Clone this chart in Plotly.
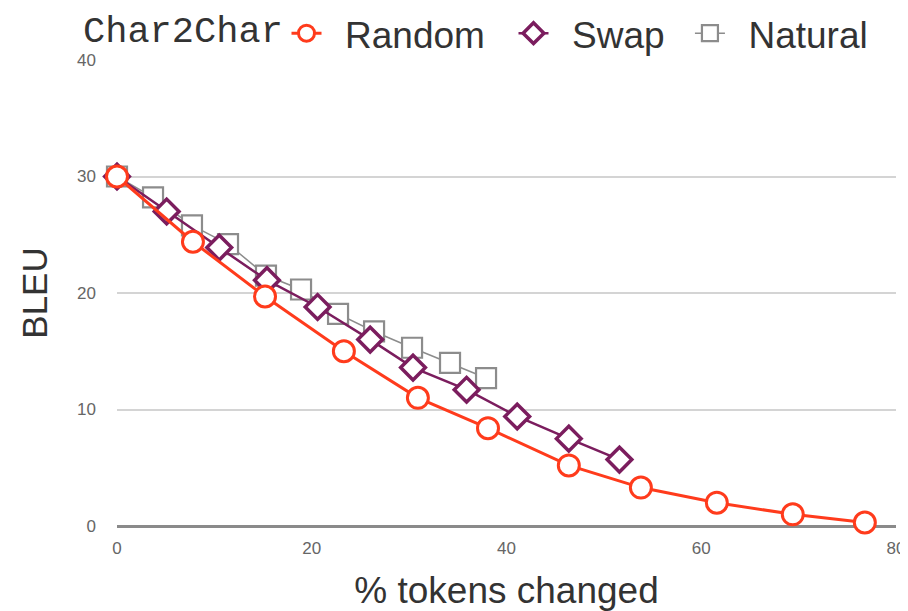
import plotly.graph_objects as go

# Data
random_x = [0, 7.8, 15.2, 23.3, 30.9, 38.1, 46.4, 53.8, 61.6, 69.4, 76.8]
random_y = [30.0, 24.4, 19.7, 15.0, 11.0, 8.4, 5.2, 3.3, 2.0, 1.0, 0.3]

swap_x = [0, 5.1, 10.5, 15.4, 20.6, 26.0, 30.4, 35.9, 41.1, 46.4, 51.6]
swap_y = [30.0, 27.0, 23.9, 21.1, 18.8, 16.0, 13.6, 11.7, 9.4, 7.5, 5.7]

natural_x = [0, 3.7, 7.7, 11.4, 15.3, 18.9, 22.7, 26.4, 30.3, 34.2, 37.9]
natural_y = [30.0, 28.2, 25.8, 24.2, 21.5, 20.3, 18.2, 16.7, 15.3, 14.0, 12.7]

x_ticks = [0, 20, 40, 60, 80]
y_ticks = [0, 10, 20, 30, 40]

legend_title = "Char2Char"

RED = "#ff3b1c"
PURPLE = "#7b1d5e"
GRAY = "#8c8c8c"

fig = go.Figure()

fig.add_trace(go.Scatter(
    x=natural_x, y=natural_y, name="\u2002Natural", mode="lines+markers",
    line=dict(color=GRAY, width=1.5),
    marker=dict(symbol="square", size=20, color="white", line=dict(color=GRAY, width=2.2)),
    cliponaxis=False, legend="legend3",
))
fig.add_trace(go.Scatter(
    x=swap_x, y=swap_y, name="\u2002Swap", mode="lines+markers",
    line=dict(color=PURPLE, width=2.5),
    marker=dict(symbol="diamond", size=19, color="white", line=dict(color=PURPLE, width=3.5)),
    cliponaxis=False, legend="legend2",
))
fig.add_trace(go.Scatter(
    x=random_x, y=random_y, name="\u2002Random", mode="lines+markers",
    line=dict(color=RED, width=3),
    marker=dict(symbol="circle", size=21, color="white", line=dict(color=RED, width=3)),
    cliponaxis=False, legend="legend",
))

W, H = 908, 611
FW, FH = 900, 603  # figure size (page body has an 8px default margin)
L, R, T, B = 109, 12, 52, 85
PW, PH = FW - L - R, FH - T - B

LEG_Y = 1 - 26 / H
leg_common = dict(
    orientation="h", xref="container", yref="container",
    y=LEG_Y, xanchor="left", yanchor="middle",
    font=dict(size=37, color="#333333"),
    bgcolor="rgba(0,0,0,0)",
)

fig.add_annotation(
    text=legend_title, xref="paper", yref="paper",
    x=(74 - L) / PW, y=1 + (T - 24) / PH, xanchor="left", yanchor="middle",
    showarrow=False, height=34, valign="middle", borderpad=0,
    font=dict(family="Liberation Mono, Courier New, monospace", size=37, color="#333333"),
)

fig.update_layout(
    width=FW, height=FH,
    margin=dict(l=L, r=R, t=T, b=B, autoexpand=False),
    paper_bgcolor="white", plot_bgcolor="white",
    font=dict(family="Liberation Sans, Arial, sans-serif", color="#333333"),
    showlegend=True,
    legend=dict(x=(308 - 8 - 21.5) / FW, **leg_common),
    legend2=dict(x=(543 - 33) / W, **leg_common),
    legend3=dict(x=(721 - 33) / W, **leg_common),
    xaxis=dict(
        range=[0, 80], tickvals=x_ticks, showgrid=False, zeroline=False,
        showline=False, ticks="",
        tickfont=dict(size=17, color="#666666"),
        ticklabelstandoff=10,
        title=dict(text="% tokens changed", font=dict(size=37, color="#333333"), standoff=22),
        automargin=False,
    ),
    yaxis=dict(
        range=[0, 40], tickvals=y_ticks, showgrid=True, gridcolor="#d4d4d4", gridwidth=2,
        zeroline=True, zerolinecolor="#8a8a8a", zerolinewidth=3,
        showline=False, ticks="",
        tickfont=dict(size=17, color="#666666"),
        ticklabelstandoff=20,
        title=dict(text="BLEU", font=dict(size=35, color="#333333"), standoff=18),
        automargin=False,
    ),
)

fig.write_html("out.html")
